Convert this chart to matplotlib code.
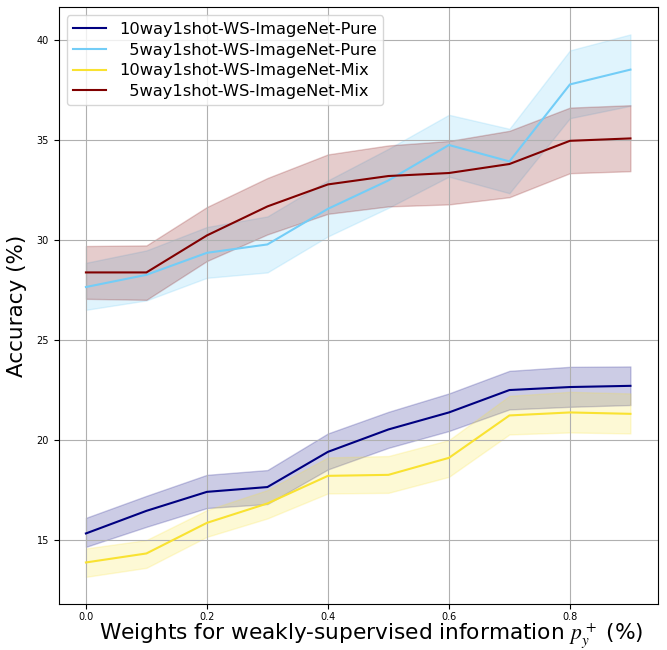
import numpy as np
import matplotlib
matplotlib.use('Agg')
import matplotlib.pyplot as plt

plt.rcParams['mathtext.fontset'] = 'stix'

# weights for weakly-supervised information
weights = [0.0, 0.1, 0.2, 0.3, 0.4, 0.5, 0.6, 0.7, 0.8, 0.9]

# 10way1shot pure
pure10_mean = [15.35, 16.48, 17.43, 17.67, 19.43, 20.55, 21.40, 22.52, 22.67, 22.73]
pure10_low = [14.68, 15.68, 16.62, 16.82, 18.55, 19.63, 20.47, 21.55, 21.68, 21.77]
pure10_high = [16.13, 17.23, 18.28, 18.52, 20.35, 21.43, 22.35, 23.48, 23.68, 23.70]

# 5way1shot pure
pure5_mean = [27.67, 28.28, 29.38, 29.80, 31.58, 33.00, 34.77, 33.95, 37.80, 38.54]
pure5_low = [26.53, 27.00, 28.13, 28.40, 30.20, 31.63, 33.19, 32.36, 36.11, 36.73]
pure5_high = [28.88, 29.50, 30.67, 31.20, 33.00, 34.58, 36.28, 35.58, 39.50, 40.30]

# 10way1shot mix
mix10_mean = [13.90, 14.35, 15.88, 16.85, 18.23, 18.28, 19.13, 21.25, 21.40, 21.33]
mix10_low = [13.18, 13.63, 15.18, 16.10, 17.35, 17.38, 18.18, 20.30, 20.40, 20.35]
mix10_high = [14.60, 15.02, 16.52, 17.52, 19.15, 19.22, 20.02, 22.23, 22.43, 22.35]

# 5way1shot mix
mix5_mean = [28.40, 28.40, 30.25, 31.70, 32.80, 33.22, 33.37, 33.82, 34.98, 35.10]
mix5_low = [27.08, 27.03, 28.97, 30.30, 31.33, 31.70, 31.80, 32.16, 33.36, 33.46]
mix5_high = [29.72, 29.75, 31.67, 33.12, 34.30, 34.75, 34.97, 35.48, 36.64, 36.76]

series = [
    ("10way1shot-WS-ImageNet-Pure", pure10_mean, pure10_low, pure10_high, 'navy', 0.2),
    ("  5way1shot-WS-ImageNet-Pure", pure5_mean, pure5_low, pure5_high, '#73CDF7', 0.22),
    ("10way1shot-WS-ImageNet-Mix", mix10_mean, mix10_low, mix10_high, '#F9E231', 0.2),
    ("  5way1shot-WS-ImageNet-Mix", mix5_mean, mix5_low, mix5_high, 'maroon', 0.2),
]

fig = plt.figure(figsize=(6.67, 6.5), dpi=100)
ax = fig.add_axes([0.088, 0.0708, 0.898, 0.918])

for label, mean, low, high, color, a in series:
    ax.plot(weights, mean, color=color, linewidth=1.5, label=label)
    ax.fill_between(weights, low, high, color=color, alpha=a)

ax.grid(True)
ax.tick_params(labelsize=7)
ax.tick_params(axis='x', pad=2.5)
ax.set_xlabel(r"Weights for weakly-supervised information $p_y^+$ (%)", fontsize=15.6)
ax.xaxis.set_label_coords(0.521, -0.029)
ax.set_ylabel("Accuracy (%)", fontsize=15.5, labelpad=7)
ax.legend(loc='upper left', fontsize=11.7, labelspacing=0.35)

fig.savefig('out.png', dpi=100)
